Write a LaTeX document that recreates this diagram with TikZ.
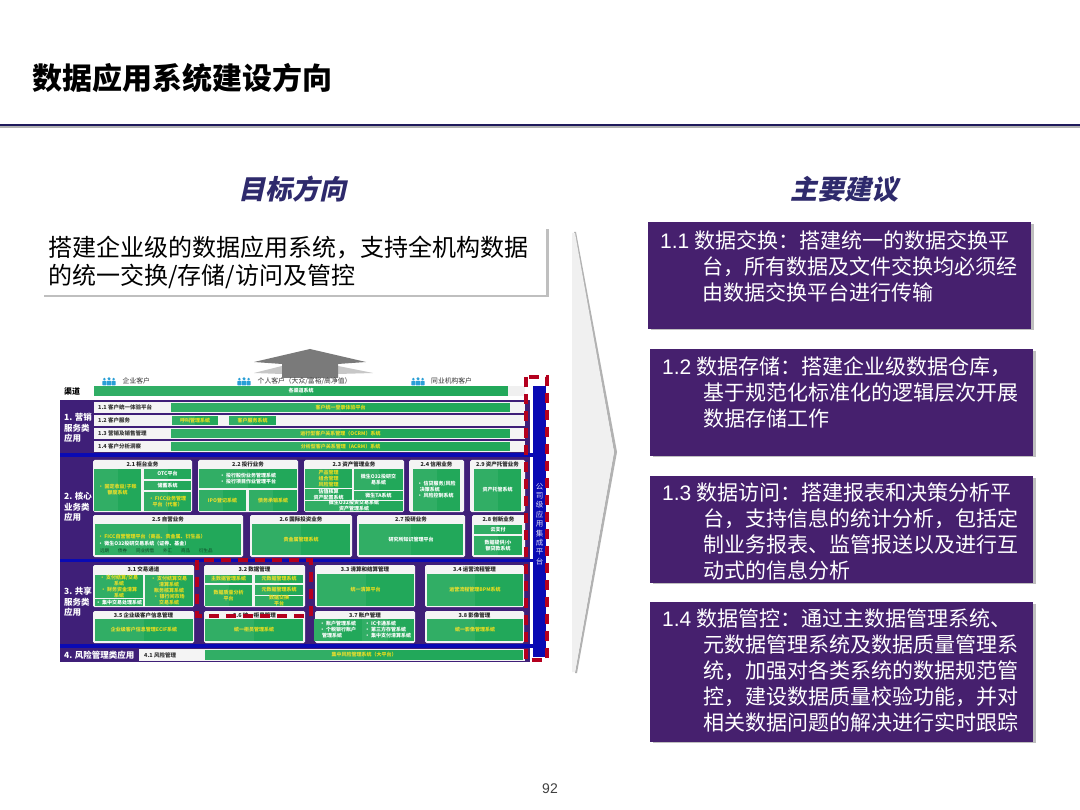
\documentclass[tikz,border=0pt]{standalone}
\usepackage{fontspec}
\setmainfont{Noto Sans CJK SC}
\newfontfamily\arialfont{Liberation Sans}
\newfontfamily\headfont[BoldFeatures={FakeSlant=0.22}]{Noto Sans CJK SC}
\usepackage{xcolor}
\usetikzlibrary{arrows.meta, positioning, calc}
\definecolor{navyline}{HTML}{1F1A5C}
\definecolor{headcolor}{HTML}{2E2A6C}
\definecolor{boxpurple}{HTML}{46206E}
\definecolor{mappurple}{HTML}{3F1F78}
\definecolor{mapblue}{HTML}{0A0AB4}
\definecolor{mapred}{HTML}{B4001E}
\definecolor{sysgreen}{HTML}{22A85A}
\definecolor{sysyellow}{HTML}{E6DC1E}
\definecolor{cardgrey}{HTML}{F4F4F4}
\definecolor{iconblue}{HTML}{2A9FD6}
\tikzset{
  adviceboxbg/.style = {fill=boxpurple},
  advice/.style      = {anchor=north west, inner sep=0pt, align=left, text=white,
                        font=\fontsize{21}{26}\selectfont},
  heading/.style     = {text=headcolor, font=\fontsize{27}{30}\headfont\bfseries},
  sideshadow/.style  = {fill=black!25},
  rowtitle/.style    = {anchor=west, inner sep=0pt, font=\fontsize{5.5}{6.5}\bfseries\selectfont, text=black!80},
  cardtitle/.style   = {inner sep=0pt, font=\fontsize{5.5}{6.5}\bfseries\selectfont, text=black!85},
  seclabel/.style    = {anchor=west, inner sep=0pt, align=left, text=white,
                        font=\fontsize{8.5}{10.5}\bfseries\selectfont},
  custlabel/.style   = {anchor=west, inner sep=0pt, font=\fontsize{6.8}{8}\selectfont, text=black!80},
  sysy/.style        = {inner sep=0pt, align=center, text=sysyellow, font=\fontsize{5}{6}\bfseries\selectfont},
  sysw/.style        = {inner sep=0pt, align=center, text=white, font=\fontsize{5}{6}\bfseries\selectfont},
  sysl/.style        = {inner sep=0pt, align=left, text=white, font=\fontsize{5}{6}\bfseries\selectfont},
  sysd/.style        = {inner sep=0pt, align=center, text=black!60!sysgreen, font=\fontsize{4.5}{5}\selectfont},
  reddash/.style     = {draw=mapred, line width=4pt, dash pattern=on 10pt off 7pt},
}
% card with its title, x1 y1 x2 y2
\newcommand{\appcard}[6]{
  \fill[cardgrey, rounded corners=1.5pt] (#2,#3) rectangle (#4,#5);
  \node[cardtitle] (#1) at ({(#2+#4)/2},#3+4.5) {#6};
}
% green system cell
\newcommand{\syscell}[7][sysy]{
  \fill[sysgreen] (#3,#4) rectangle node[#1] (#2) {#7} (#5,#6);
  \fill[white, opacity=0.07] (#3,#4) rectangle ({(#3+#5)/2},#6);
}
% three small persons
\newcommand{\custicon}[3]{
  \foreach \dx/\s in {-4.6/0.85, 0/1, 4.6/0.85}{
    \fill[iconblue] (#2+\dx,#3-2.2*\s) circle (1.7*\s);
    \fill[iconblue, rounded corners=0.8pt] (#2+\dx-2.4*\s,#3+4.5) rectangle (#2+\dx+2.4*\s,#3-0.2);
  }
  \coordinate (#1) at (#2,#3);
}
\begin{document}
\begin{tikzpicture}[x=1pt, y=-1pt]
  \useasboundingbox (0,0) rectangle (1080,810);
  \fill[white] (0,0) rectangle (1080,810);

  % header
  \node[anchor=west, inner sep=0pt, font=\fontsize{30}{32}\bfseries\selectfont] (title) at (32,78) {数据应用系统建设方向};
  \fill[black!30] (0,126) rectangle (1080,128.5);
  \fill[navyline] (0,124) rectangle (1080,126.5);
  \node[heading] (target) at (292,189) {目标方向};
  \node[heading] (advice) at (844,189) {主要建议};

  % goal box
  \fill[sideshadow] (44,229) rectangle (549,297);
  \fill[white] (42,227) rectangle (546,295);
  \node[anchor=north west, inner sep=0pt, align=left, font=\fontsize{24}{28}\selectfont] (goal) at (48,236)
    {搭建企业级的数据应用系统，支持全机构数据\\的统一交换/存储/访问及管控};

  % chevron
  \fill[black!30] (576,232) -- (617,452) -- (577,673) -- (575,673) -- (614,452) -- (574,232) -- cycle;
  \fill[black!6] (572,233) -- (575,233) -- (614,452) -- (575,672) -- (572,672) -- cycle;

  % advice boxes
  \fill[sideshadow] (651,224) rectangle (1034,330);
  \fill[adviceboxbg] (648,222) rectangle (1031,329);
  \node[advice] (adv1) at (660,230) {{\arialfont 1.1} 数据交换：搭建统一的数据交换平\\\hspace*{42pt}台，所有数据及文件交换均必须经\\\hspace*{42pt}由数据交换平台进行传输};
  \fill[sideshadow] (653,351) rectangle (1036,457);
  \fill[adviceboxbg] (650,349) rectangle (1033,456);
  \node[advice] (adv2) at (662,356) {{\arialfont 1.2} 数据存储：搭建企业级数据仓库，\\\hspace*{41pt}基于规范化标准化的逻辑层次开展\\\hspace*{41pt}数据存储工作};
  \fill[sideshadow] (653,478) rectangle (1036,584);
  \fill[adviceboxbg] (650,476) rectangle (1033,583);
  \node[advice] (adv3) at (662,483) {{\arialfont 1.3} 数据访问：搭建报表和决策分析平\\\hspace*{41pt}台，支持信息的统计分析，包括定\\\hspace*{41pt}制业务报表、监管报送以及进行互\\\hspace*{41pt}动式的信息分析};
  \fill[sideshadow] (653,604) rectangle (1036,743);
  \fill[adviceboxbg] (650,602) rectangle (1033,742);
  \node[advice] (adv4) at (662,609) {{\arialfont 1.4} 数据管控：通过主数据管理系统、\\\hspace*{41pt}元数据管理系统及数据质量管理系\\\hspace*{41pt}统，加强对各类系统的数据规范管\\\hspace*{41pt}控，建设数据质量校验功能，并对\\\hspace*{41pt}相关数据问题的解决进行实时跟踪};

  \node[font=\fontsize{14}{16}\arialfont, text=black!75, inner sep=0pt] (pageno) at (550,789) {92};

  % up arrow
  \fill[black!22] (254,373) -- (282,366) -- (338,366) -- (373,373) -- (338,374) -- (338,378) -- (282,378) -- (282,374) -- cycle;
  \fill[black!52] (254,362) -- (310,349) -- (366,362) -- (338,364) -- (338,378) -- (282,378) -- (282,364) -- cycle;

  % customers
  \custicon{icona}{109}{381}
  \node[custlabel, right=13.5pt of icona] (custa) {企业客户};
  \custicon{iconb}{244}{381}
  \node[custlabel, right=13.5pt of iconb] (custb) {个人客户（大众/富裕/高净值）};
  \custicon{iconc}{418}{381}
  \node[custlabel, right=13pt of iconc] (custc) {同业机构客户};

  % channel row
  \node[anchor=west, inner sep=0pt, font=\fontsize{8}{9}\bfseries\selectfont] (chan) at (64,391) {渠道};
  \fill[black!6] (94,386) rectangle (525,396);
  \syscell[sysw]{chanbar}{94}{386}{508}{396}{各渠道系统}

  % backing
  \fill[mappurple] (60,400) rectangle (530,662);
  \fill[mapblue] (60,453.5) rectangle (530,457);
  \fill[mapblue] (60,558.5) rectangle (530,562);
  \fill[mapblue] (60,644) rectangle (530,647.5);
  \node[seclabel] (sec1) at (64,428) {1. 营销\\服务类\\应用};
  \node[seclabel] (sec2) at (64,507) {2. 核心\\业务类\\应用};
  \node[seclabel] (sec3) at (64,602) {3. 共享\\服务类\\应用};
  \node[seclabel] (sec4) at (64,655) {4. 风险管理类应用};

  % section 1
  \fill[cardgrey] (94,402) rectangle (525,413);
  \fill[cardgrey] (94,415) rectangle (525,426);
  \fill[cardgrey] (94,428) rectangle (525,439);
  \fill[cardgrey] (94,441) rectangle (525,452);
  \node[rowtitle] (r11) at (98,407.5) {1.1 客户统一体验平台};
  \node[rowtitle] (r12) at (98,420.5) {1.2 客户服务};
  \node[rowtitle] (r13) at (98,433.5) {1.3 营销及销售管理};
  \node[rowtitle] (r14) at (98,446.5) {1.4 客户分析洞察};
  \syscell{s11}{171}{403}{510}{412}{客户统一登录体验平台}
  \syscell{s12a}{172}{416}{218}{425}{呼叫管理系统}
  \syscell{s12b}{229}{416}{276}{425}{客户服务系统}
  \syscell{s13}{171}{429}{510}{438}{运行型客户关系管理（OCRM）系统}
  \syscell{s14}{171}{442}{510}{451}{分析型客户关系管理（ACRM）系统}

  % section 2
  \appcard{c21}{93}{460}{192}{512}{2.1 柜台业务}
  \syscell{s21a}{94}{469}{141}{511}{· 固定收益/子账\\额度系统}
  \syscell[sysw]{s21b}{144}{469}{191}{479}{OTC平台}
  \syscell[sysw]{s21c}{144}{481}{191}{490}{储蓄系统}
  \syscell{s21d}{144}{492}{191}{511}{· FICC业务管理\\平台（代客）}
  \appcard{c22}{198}{460}{298}{512}{2.2 投行业务}
  \syscell[sysl]{s22a}{199}{469}{297}{488}{· 投行股份业务管理系统\\· 投行项目作业管理平台}
  \syscell{s22b}{199}{490}{246}{511}{IPO登记系统}
  \syscell{s22c}{249}{490}{297}{511}{债务承销系统}
  \appcard{c23}{304}{460}{404}{512}{2.3 资产管理业务}
  \syscell{s23a}{305}{469}{352}{488}{产品管理\\组合管理\\风险管理}
  \syscell[sysw]{s23b}{305}{489}{352}{500}{估值核算\\资产配置系统}
  \syscell[sysw]{s23c}{354}{469}{403}{490}{微生O32投研交\\易系统}
  \syscell[sysw]{s23d}{354}{491}{403}{500}{微生TA系统}
  \syscell[sysw]{s23e}{305}{501}{403}{511}{微生O32投资交易系统\\资产管理系统}
  \appcard{c24}{409}{460}{464}{512}{2.4 信用业务}
  \syscell[sysl]{s24}{413}{469}{460}{511}{· 信贷服务/风险\\\ \ 决策系统\\· 风险控制系统}
  \appcard{c29}{470}{460}{525}{512}{2.9 资产托管业务}
  \syscell[sysw]{s29}{474}{469}{521}{511}{资产托管系统}

  \appcard{c25}{93}{515}{243}{557}{2.5 自营业务}
  \syscell[sysl]{s25}{95}{524}{241}{555}{}
  \node[sysy, anchor=west] (s25a) at (98,537) {· FICC自营管理平台（商品、贵金属、衍生品）};
  \node[sysw, anchor=west] (s25b) at (98,544) {· 微生O32投研交易系统（证券、基金）};
  \node[sysd, anchor=west] (s25c) at (100,551) {远期\quad\quad 债券\quad\quad 同业拆借\quad\quad 外汇\quad\quad 商品\quad\quad 衍生品};
  \appcard{c26}{250}{515}{352}{557}{2.6 国际投资业务}
  \syscell{s26}{252}{524}{350}{555}{贵金属管理系统}
  \appcard{c27}{357}{515}{465}{557}{2.7 投研业务}
  \syscell[sysw]{s27}{359}{524}{463}{555}{研究所知识管理平台}
  \appcard{c28}{472}{515}{525}{557}{2.8 创新业务}
  \syscell[sysw]{s28a}{474}{525}{522}{534}{云支付}
  \syscell[sysw]{s28b}{474}{536}{522}{555}{数据提供/小\\额贷款系统}

  % section 3
  \appcard{c31}{93}{565}{194}{607}{3.1 交易通道}
  \syscell{s31a}{95}{575}{143}{598}{· 支付结算/交易\\系统\\· 财务资金清算\\系统}
  \syscell{s31b}{145}{575}{193}{606}{· 支付结算交易\\清算系统\\账务核算系统\\· 银行间市场\\交易系统}
  \syscell[sysw]{s31c}{95}{599}{143}{606}{· 集中交易处理系统}
  \appcard{c32}{204}{565}{305}{607}{3.2 数据管理}
  \syscell{s32a}{205}{575}{252}{583}{主数据管理系统}
  \syscell{s32b}{255}{575}{303}{583}{元数据管理系统}
  \syscell{s32c}{205}{585}{252}{606}{数据质量分析\\平台}
  \syscell{s32d}{255}{585}{303}{595}{元数据管理系统}
  \syscell{s32e}{255}{596}{303}{606}{数据交换\\平台}
  \appcard{c33}{315}{565}{415}{607}{3.3 清算和结算管理}
  \syscell{s33}{317}{574}{414}{606}{统一清算平台}
  \appcard{c34}{425}{565}{524}{607}{3.4 运营流程管理}
  \syscell{s34}{427}{574}{523}{606}{运营流程管理BPM系统}
  \appcard{c35}{93}{611}{194}{643}{3.5 企业级客户信息管理}
  \syscell{s35}{95}{619}{193}{641}{企业级客户信息管理ECIF系统}
  \appcard{c36}{204}{611}{305}{643}{3.6 统一柜员管理}
  \syscell{s36}{205}{619}{303}{641}{统一柜员管理系统}
  \appcard{c37}{315}{611}{415}{643}{3.7 账户管理}
  \syscell[sysl]{s37a}{314}{619}{362}{641}{· 账户管理系统\\· 个税银行账户\\\ \ 管理系统}
  \syscell[sysl]{s37b}{362}{619}{414}{641}{· IC卡通系统\\· 第三方存管系统\\· 集中支付清算系统}
  \appcard{c38}{425}{611}{524}{643}{3.8 影像管理}
  \syscell{s38}{427}{619}{523}{641}{统一影像管理系统}

  % section 4
  \fill[cardgrey] (139,649) rectangle (525,661);
  \node[rowtitle] (r41) at (144,655) {4.1 风险管理};
  \syscell{s41}{205}{650}{523}{660}{集中风险管理系统（大平台）}

  % integration bar
  \fill[white] (530,400) rectangle (533,662);
  \fill[mapblue] (530,453.5) rectangle (534,457);
  \fill[mapblue] (530,558.5) rectangle (534,562);
  \fill[mapblue] (530,644) rectangle (534,647.5);
  \fill[mapblue] (533,386) rectangle (546,657);
  \node[inner sep=0pt, align=center, text=white!85!mapblue, font=\fontsize{7.5}{9.4}\selectfont] (integ) at (539.5,524)
    {公\\司\\级\\应\\用\\集\\成\\平\\台};

  % red dashed frames
  \draw[reddash] (525.5,377) rectangle (546.5,660);
  \draw[reddash] (197,560) rectangle (311,616);
\end{tikzpicture}
\end{document}
